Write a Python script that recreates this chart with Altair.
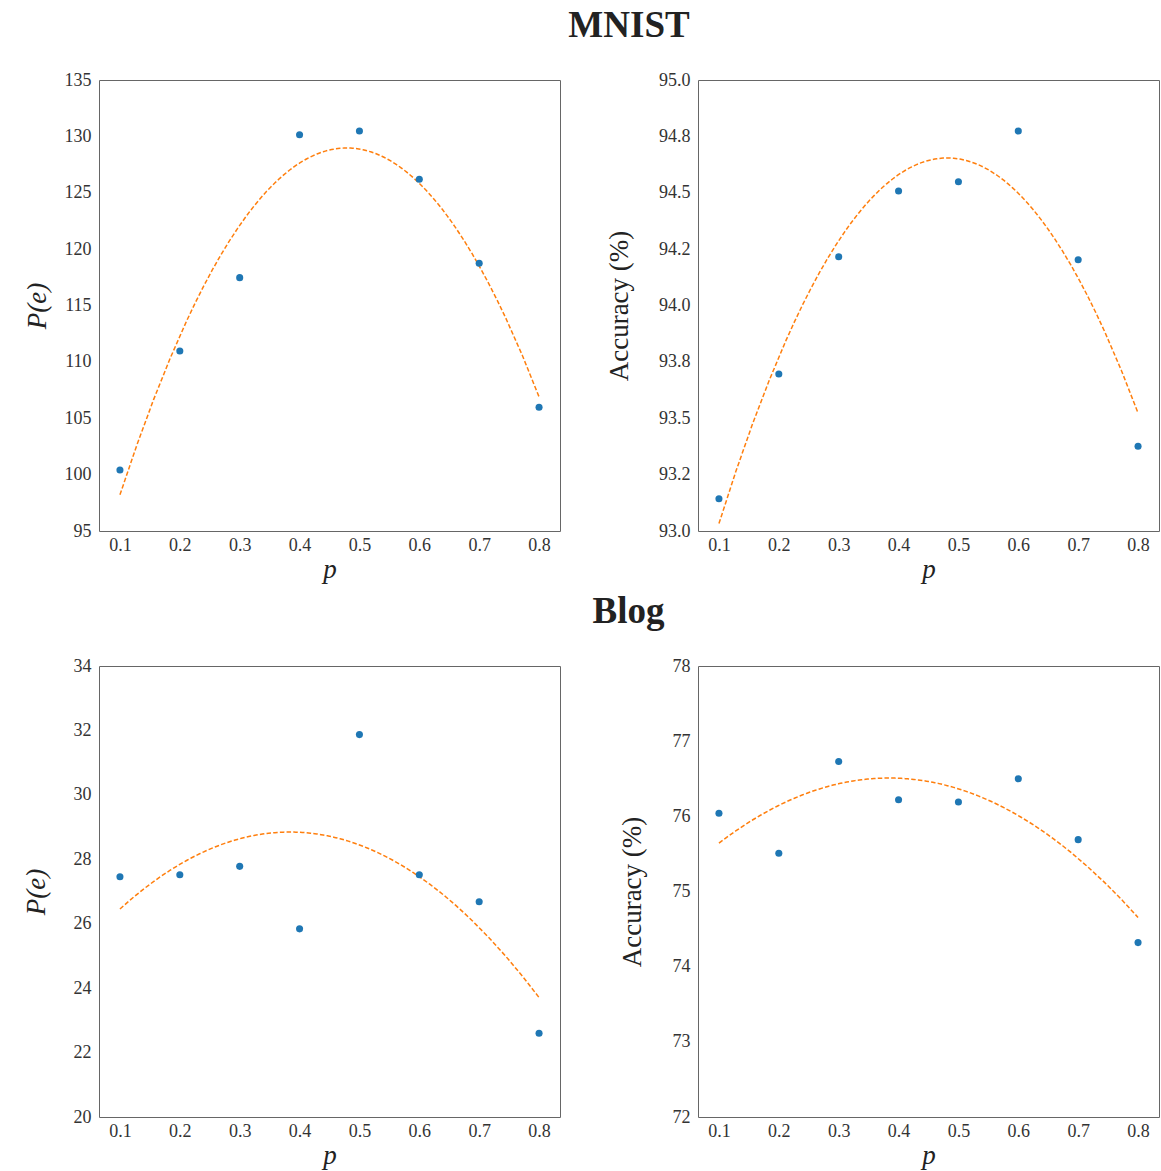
import altair as alt
import pandas as pd

# ---- data ----
p_values = [0.1, 0.2, 0.3, 0.4, 0.5, 0.6, 0.7, 0.8]
mnist_pe = [100.41, 110.96, 117.47, 130.15, 130.48, 126.19, 118.74, 105.97]
mnist_acc = [93.143, 93.696, 94.216, 94.508, 94.549, 94.774, 94.203, 93.376]
blog_pe = [27.46, 27.52, 27.78, 25.84, 31.87, 27.52, 26.68, 22.60]
blog_acc = [76.04, 75.51, 76.73, 76.22, 76.19, 76.50, 75.69, 74.32]

x_ticks = [0.1, 0.2, 0.3, 0.4, 0.5, 0.6, 0.7, 0.8]
mnist_pe_ticks = [95, 100, 105, 110, 115, 120, 125, 130, 135]
mnist_acc_ticks = [93.0, 93.25, 93.5, 93.75, 94.0, 94.25, 94.5, 94.75, 95.0]
mnist_acc_labels = ["93.0", "93.2", "93.5", "93.8", "94.0", "94.2", "94.5", "94.8", "95.0"]
blog_pe_ticks = [20, 22, 24, 26, 28, 30, 32, 34]
blog_acc_ticks = [72, 73, 74, 75, 76, 77, 78]

FONT = "Liberation Serif"
W, H = 461, 451


def panel(values, ytitle, yticks, title_x, ylabels=None, title_italic=False):
    df = pd.DataFrame({"p": p_values, "v": values})
    base = alt.Chart(df)
    yaxis_kwargs = dict(values=yticks, title=ytitle, titleX=title_x, titleY=H / 2,
                        titleAngle=270, titleAlign="center", titleBaseline="middle")
    if ylabels is not None:
        expr = ("[" + ",".join("'%s'" % s for s in ylabels) + "][indexof(["
                + ",".join(repr(t) for t in yticks) + "], datum.value)]")
        yaxis_kwargs["labelExpr"] = expr
    if title_italic:
        yaxis_kwargs["titleFontStyle"] = "italic"
    x = alt.X("p:Q",
              scale=alt.Scale(domain=[0.065, 0.835], nice=False, zero=False),
              axis=alt.Axis(values=x_ticks, format=".1f", title="p",
                            titleFontStyle="italic", labelPadding=5, titlePadding=2))
    y = alt.Y("v:Q",
              scale=alt.Scale(domain=[yticks[0], yticks[-1]], nice=False, zero=False),
              axis=alt.Axis(**yaxis_kwargs))
    fit = base.transform_regression(
        "p", "v", method="poly", order=2, extent=[0.1, 0.8]
    ).mark_line(color="#ff7f0e", strokeDash=[4.5, 2.2], strokeWidth=1.5).encode(x=x, y=y)
    pts = base.mark_circle(size=50, color="#1f77b4", opacity=1).encode(x=x, y=y)
    return alt.layer(fit, pts).properties(width=W, height=H)


tl = panel(mnist_pe, "P(e)", mnist_pe_ticks, -62, title_italic=True)
tr = panel(mnist_acc, "Accuracy (%)", mnist_acc_ticks, -79, mnist_acc_labels)
bl = panel(blog_pe, "P(e)", blog_pe_ticks, -63, title_italic=True)
br = panel(blog_acc, "Accuracy (%)", blog_acc_ticks, -66)

title_style = dict(font=FONT, fontSize=37, fontWeight="bold", color="#222",
                   anchor="middle", offset=26, dx=38)

row1 = alt.hconcat(tl, tr, spacing=138, bounds="flush").properties(
    title=alt.Title("MNIST", **title_style))
row2 = alt.hconcat(bl, br, spacing=138, bounds="flush").properties(
    title=alt.Title("Blog", **title_style))

chart = alt.vconcat(row1, row2, spacing=9).properties(
    padding={"left": 21, "top": 6, "right": 0, "bottom": 5}
).configure_view(
    stroke="#666", strokeWidth=1
).configure_axis(
    domain=False, ticks=False, grid=False,
    labelFont=FONT, labelFontSize=18, labelColor="#333", labelPadding=8,
    titleFont=FONT, titleFontSize=27, titleFontWeight="normal", titleColor="#222",
    titlePadding=14
)

chart.save("out.html", embed_options={"renderer": "svg", "actions": False})
